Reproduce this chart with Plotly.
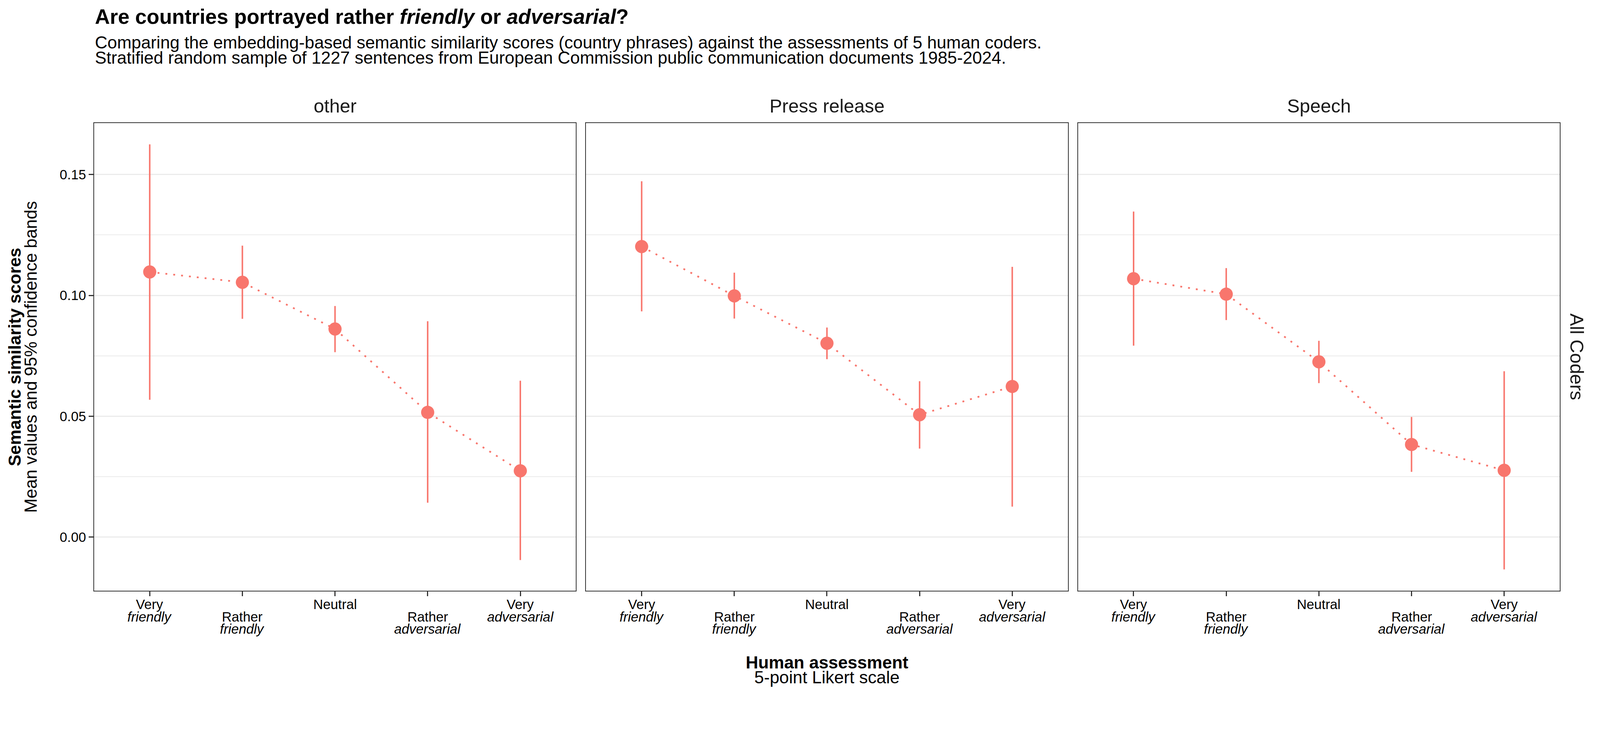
import plotly.graph_objects as go
from plotly.subplots import make_subplots


FONT = 'Liberation Sans, Arial, Helvetica, sans-serif'
RED = '#F8766D'

# facet panels and the five Likert categories
panels = ['other', 'Press release', 'Speech']
likert_pos = [1, 2, 3, 4, 5]
# tick labels, one list per text line (the even categories are dodged a line down)
tick_line1 = ['Very', '', 'Neutral', '', 'Very']
tick_line2 = ['<i>friendly</i>', 'Rather', '', 'Rather', '<i>adversarial</i>']
tick_line3 = ['', '<i>friendly</i>', '', '<i>adversarial</i>', '']

# mean semantic similarity and 95% CI
mean_other = [0.1097, 0.1054, 0.0861, 0.0516, 0.0274]
low_other = [0.0568, 0.0903, 0.0765, 0.0142, -0.0095]
high_other = [0.1625, 0.1206, 0.0956, 0.0893, 0.0647]

mean_press = [0.1202, 0.0998, 0.0802, 0.0506, 0.0623]
low_press = [0.0934, 0.0904, 0.0736, 0.0366, 0.0126]
high_press = [0.1472, 0.1094, 0.0867, 0.0645, 0.1118]

mean_speech = [0.1069, 0.1005, 0.0725, 0.0383, 0.0276]
low_speech = [0.0792, 0.0898, 0.0637, 0.0270, -0.0134]
high_speech = [0.1347, 0.1113, 0.0812, 0.0497, 0.0686]

y_ticks = [0.00, 0.05, 0.10, 0.15]

# the browser lays the page out ~4096 css px wide and scales the shot up to
# 4251, and the body keeps its 8px margin: size everything for that
S = 4096 / 4251
OFF = 8
W = round(4251 * S) - 2 * OFF
H = round(1889 * S) - 2 * OFF
M_L = 250 * S - OFF
M_T = 327 * S - OFF
M_R = W - (4144 * S - OFF)
M_B = H - (1569 * S - OFF)
PLOT_W = W - M_L - M_R
PLOT_H = H - M_T - M_B


def r(v):
    return v * S


def py(ref_y):
    return (H - M_B - (ref_y * S - OFF)) / PLOT_H


def px(ref_x):
    return (ref_x * S - OFF - M_L) / PLOT_W


def add_panel(fig, col, means, lows, highs):

    upper = [h - m for h, m in zip(highs, means)]
    lower = [m - l for m, l in zip(means, lows)]

    fig.add_trace(go.Scatter(
        x=likert_pos, y=means, mode='lines+markers',
        line=dict(color=RED, width=r(4.5), dash='%.1fpx,%.1fpx' % (r(5), r(16))),
        marker=dict(color=RED, size=r(35), line=dict(width=0)),
        error_y=dict(type='data', symmetric=False, array=upper,
                     arrayminus=lower, width=0, thickness=r(4), color=RED),
        showlegend=False, hoverinfo='skip'),
        row=1, col=col)


def text_note(text, x, y, size, angle=0, anchor='center', color='black',
              xref='paper'):
    return dict(text=text, x=x, y=y, xref=xref, yref='paper',
                xanchor=anchor, yanchor='middle', textangle=angle,
                showarrow=False, font=dict(family=FONT, size=r(size), color=color))


def main():

    fig = make_subplots(rows=1, cols=3, shared_yaxes=True,
                        horizontal_spacing=r(27) / PLOT_W)

    add_panel(fig, 1, mean_other, low_other, high_other)
    add_panel(fig, 2, mean_press, low_press, high_press)
    add_panel(fig, 3, mean_speech, low_speech, high_speech)

    fig.update_xaxes(
        range=[0.4, 5.6], tickvals=likert_pos, showticklabels=False,
        showgrid=False, zeroline=False,
        showline=True, mirror=True, linecolor='#333333', linewidth=r(2.5),
        ticks='outside', ticklen=r(12), tickwidth=r(2.7), tickcolor='#333333')

    fig.update_yaxes(
        range=[-0.0222, 0.1713], tickvals=y_ticks, tickformat='.2f',
        showgrid=True, gridcolor='#EBEBEB', gridwidth=r(3), zeroline=False,
        minor=dict(dtick=0.025, tick0=0, showgrid=True,
                   gridcolor='#EBEBEB', gridwidth=r(1.7), ticks=''),
        showline=True, mirror=True, linecolor='#333333', linewidth=r(2.5),
        tickfont=dict(family=FONT, size=r(36), color='black'))
    fig.update_yaxes(ticks='outside', ticklen=r(12), tickwidth=r(2.7),
                     tickcolor='#333333', row=1, col=1)
    fig.update_yaxes(ticks='', row=1, col=2)
    fig.update_yaxes(ticks='', row=1, col=3)

    annotations = []

    # x tick labels, drawn line by line at the category positions
    for i in range(len(panels)):
        xref = 'x' if i == 0 else 'x%d' % (i + 1)
        for line, y_ref in [(tick_line1, 1605), (tick_line2, 1638), (tick_line3, 1671)]:
            for pos, label in zip(likert_pos, line):
                if label:
                    annotations.append(text_note(label, pos, py(y_ref), 36,
                                                 xref=xref))

    # strip labels on top of each facet
    for i, name in enumerate(panels):
        dom = fig.layout['xaxis' if i == 0 else 'xaxis%d' % (i + 1)].domain
        annotations.append(text_note(name, (dom[0] + dom[1]) / 2, py(281),
                                     50, color='#1A1A1A'))

    # right-hand strip
    annotations.append(text_note('All Coders', px(4190), 0.5, 50, angle=90,
                                 color='#1A1A1A'))

    # title and subtitle
    annotations.append(text_note(
        '<b>Are countries portrayed rather <i>friendly</i> or <i>adversarial</i>?</b>',
        0, py(44), 55, anchor='left'))
    annotations.append(text_note(
        'Comparing the embedding-based semantic similarity scores (country phrases) '
        'against the assessments of 5 human coders.',
        0, py(113), 46, anchor='left'))
    annotations.append(text_note(
        'Stratified random sample of 1227 sentences from European Commission '
        'public communication documents 1985-2024.',
        0, py(153), 46, anchor='left'))

    # axis titles
    annotations.append(text_note('<b>Human assessment</b>', 0.5, py(1759), 46))
    annotations.append(text_note('5-point Likert scale', 0.5, py(1799), 46))
    annotations.append(text_note('<b>Semantic similarity scores</b>',
                                 px(39), 0.5, 46, angle=-90))
    annotations.append(text_note('Mean values and 95% confidence bands',
                                 px(81), 0.5, 46, angle=-90))

    fig.update_layout(
        width=W, height=H,
        margin=dict(l=M_L, r=M_R, t=M_T, b=M_B, autoexpand=False),
        paper_bgcolor='white', plot_bgcolor='white',
        font=dict(family=FONT, color='black'),
        annotations=annotations, showlegend=False)

    fig.write_html('out.html')


if '__main__' == __name__:
    main()
